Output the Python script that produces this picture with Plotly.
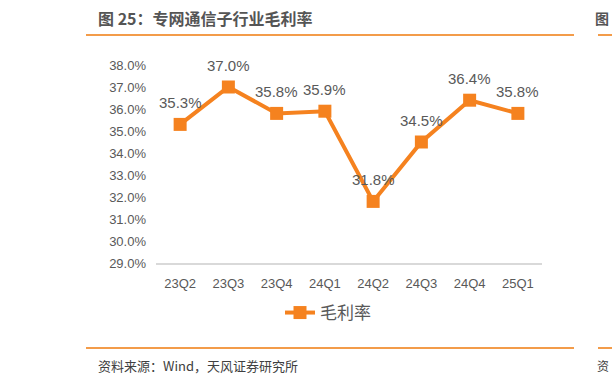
import plotly.graph_objects as go

categories = ["23Q2", "23Q3", "23Q4", "24Q1", "24Q2", "24Q3", "24Q4", "25Q1"]
gross_margin = [35.3, 37.0, 35.8, 35.9, 31.8, 34.5, 36.4, 35.8]
y_ticks = [29, 30, 31, 32, 33, 34, 35, 36, 37, 38]
series_name = "毛利率"
title_text = "图 25：专网通信子行业毛利率"
source_text = "资料来源：Wind，天风证券研究所"

W, H = 612, 383
L, R, T, B = 156, 542, 65, 263
ORANGE = "#F5821F"
GREY = "#595959"
FONT = "Liberation Sans, Noto Sans CJK SC, sans-serif"
CJK = "Noto Sans CJK SC, sans-serif"


def px(x):
    return (x - L) / (R - L)


def py(y):
    return (B - y) / (B - T)


fig = go.Figure()
fig.add_trace(go.Scatter(
    x=categories, y=gross_margin, name=series_name,
    mode="lines+markers",
    line=dict(color=ORANGE, width=4),
    marker=dict(symbol="square", size=13, color=ORANGE),
    cliponaxis=False,
))

shapes = [
    dict(type="line", xref="paper", yref="paper", x0=px(86), x1=px(574), y0=py(35), y1=py(35),
         line=dict(color="#F39C4A", width=2)),
    dict(type="line", xref="paper", yref="paper", x0=px(598), x1=px(615), y0=py(35), y1=py(35),
         line=dict(color="#F39C4A", width=2)),
    dict(type="line", xref="paper", yref="paper", x0=px(86), x1=px(574), y0=py(348), y1=py(348),
         line=dict(color="#F39C4A", width=2)),
    dict(type="line", xref="paper", yref="paper", x0=px(598), x1=px(615), y0=py(348), y1=py(348),
         line=dict(color="#F39C4A", width=2)),
]

annotations = [
    dict(text=f"<b>{title_text}</b>", xref="paper", yref="paper", x=px(96), y=py(18),
         xanchor="left", yanchor="middle", showarrow=False,
         font=dict(size=16, color="#555555", family=CJK)),
    dict(text="<b>图</b>", xref="paper", yref="paper", x=px(611), y=py(18),
         xanchor="right", yanchor="middle", showarrow=False,
         font=dict(size=14, color="#555555", family=CJK)),
    dict(text=source_text, xref="paper", yref="paper", x=px(96), y=py(365),
         xanchor="left", yanchor="middle", showarrow=False,
         font=dict(size=13, color="#404040", family=CJK)),
    dict(text="资", xref="paper", yref="paper", x=px(611), y=py(365),
         xanchor="right", yanchor="middle", showarrow=False,
         font=dict(size=12, color="#404040", family=CJK)),
]

for c, v in zip(categories, gross_margin):
    annotations.append(dict(
        text=f"{v:.1f}%", x=c, y=v, xref="x", yref="y", showarrow=False,
        xanchor="center", yanchor="middle", yshift=22,
        font=dict(size=15, color=GREY, family=FONT)))

fig.update_layout(
    width=W, height=H,
    margin=dict(l=L, r=W - R, t=T, b=H - B),
    paper_bgcolor="white", plot_bgcolor="white",
    showlegend=True,
    legend=dict(orientation="h", x=px(280), y=py(313), xanchor="left", yanchor="middle",
                font=dict(size=17, color=GREY, family=CJK), bgcolor="rgba(0,0,0,0)"),
    shapes=shapes, annotations=annotations,
    xaxis=dict(type="category", showgrid=False, showline=True, linecolor="#D9D9D9", linewidth=1.5,
               ticks="", ticklabelstandoff=8, tickfont=dict(size=13, color=GREY, family=FONT),
               range=[-0.5, len(categories) - 0.5]),
    yaxis=dict(range=[29, 38], tickvals=y_ticks, ticktext=[f"{v:.1f}%" for v in y_ticks],
               showgrid=False, zeroline=False, showline=False, ticks="", ticklabelstandoff=9,
               tickfont=dict(size=13, color=GREY, family=FONT)),
)

fig.write_html("out.html")
